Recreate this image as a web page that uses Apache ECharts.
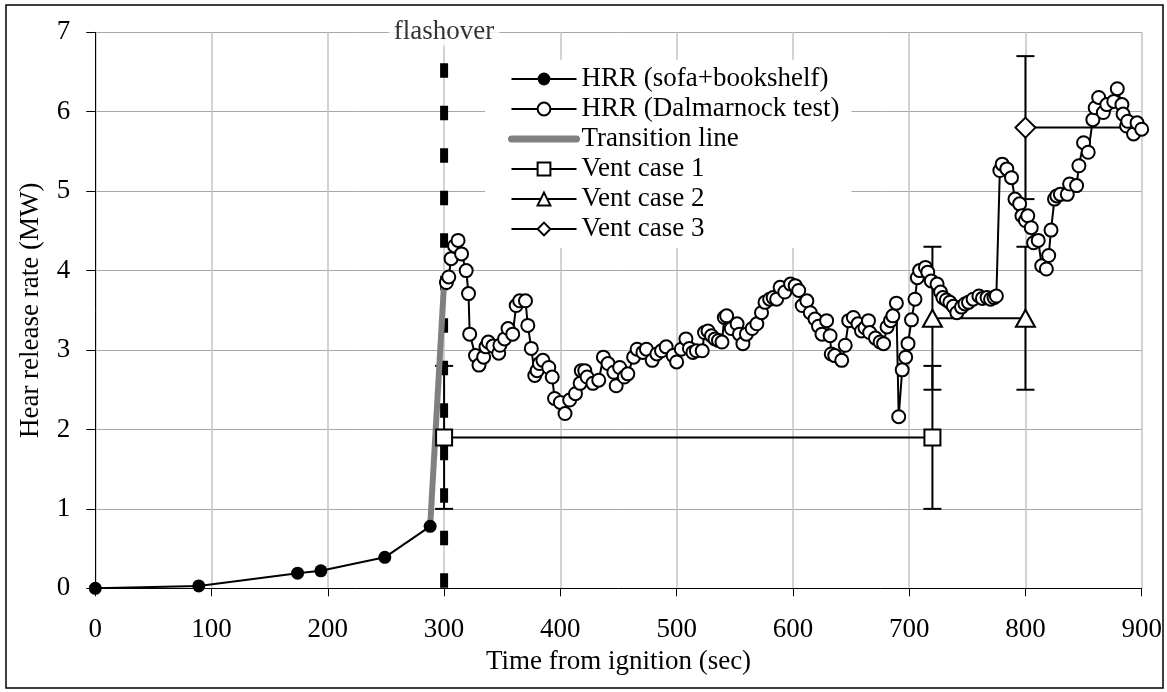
<!DOCTYPE html>
<html>
<head>
<meta charset="utf-8">
<title>HRR vs time</title>
<script src="https://cdn.jsdelivr.net/npm/echarts@6/dist/echarts.min.js"></script>
<style>
  html, body { margin: 0; padding: 0; background: #fff; }
  #chart { width: 1167px; height: 692px; }
</style>
</head>
<body>
<div id="chart"></div>
<script>
// time (sec), HRR (MW)
const sofaHrr = [[0, 0], [89, 0.03], [174, 0.19], [194, 0.22], [249, 0.39], [288, 0.78]];

const transitionLine = [[288, 0.78], [300, 3.85]];

const dalmarnockHrr = [
  [302, 3.85], [304, 3.92], [306, 4.15], [309, 4.31], [312, 4.38], [315, 4.21], [319, 4.0], [321, 3.71],
  [322, 3.2], [327, 2.93], [330, 2.81], [334, 2.91], [336, 3.04], [338, 3.1], [342, 3.05], [347, 2.96],
  [348, 3.06], [352, 3.14], [355, 3.27], [359, 3.2], [362, 3.56], [365, 3.62], [370, 3.62], [372, 3.31],
  [375, 3.02], [378, 2.68], [380, 2.74], [382, 2.83], [385, 2.87], [390, 2.78], [393, 2.66], [395, 2.39],
  [400, 2.34], [404, 2.2], [408, 2.37], [413, 2.45], [417, 2.58], [418, 2.74], [421, 2.74], [423, 2.66],
  [428, 2.58], [433, 2.62], [437, 2.91], [441, 2.83], [446, 2.72], [448, 2.55], [451, 2.78], [455, 2.66],
  [458, 2.7], [463, 2.91], [466, 3.01], [471, 2.97], [474, 3.01], [479, 2.87], [483, 2.95], [487, 2.99],
  [491, 3.04], [497, 2.93], [500, 2.85], [504, 3.01], [508, 3.14], [511, 3.02], [514, 2.97], [517, 2.99],
  [522, 2.99], [524, 3.22], [527, 3.24], [530, 3.18], [533, 3.14], [536, 3.12], [539, 3.1], [541, 3.41],
  [543, 3.43], [547, 3.27], [552, 3.33], [554, 3.2], [557, 3.08], [560, 3.2], [565, 3.27], [569, 3.33],
  [573, 3.47], [576, 3.6], [580, 3.64], [583, 3.66], [586, 3.64], [589, 3.79], [593, 3.73], [598, 3.83],
  [602, 3.81], [605, 3.75], [608, 3.56], [612, 3.62], [615, 3.47], [619, 3.39], [622, 3.3], [625, 3.2],
  [629, 3.37], [632, 3.18], [633, 2.95], [636, 2.93], [642, 2.87], [645, 3.06], [648, 3.37], [652, 3.41],
  [656, 3.33], [659, 3.24], [662, 3.28], [665, 3.37], [666, 3.22], [671, 3.15], [675, 3.1], [678, 3.08],
  [681, 3.29], [684, 3.37], [686, 3.43], [689, 3.59], [691, 2.16], [694, 2.75], [697, 2.91], [699, 3.08],
  [702, 3.38], [705, 3.64], [707, 3.91], [709, 4.0], [714, 4.04], [716, 3.98], [719, 3.87], [724, 3.83],
  [727, 3.73], [729, 3.66], [732, 3.63], [735, 3.6], [738, 3.55], [741, 3.47], [745, 3.54], [748, 3.58],
  [751, 3.6], [755, 3.64], [760, 3.68], [763, 3.65], [767, 3.66], [770, 3.64], [773, 3.66], [775, 3.68],
  [778, 5.26], [780, 5.34], [784, 5.28], [788, 5.17], [791, 4.9], [795, 4.84], [797, 4.69], [800, 4.63],
  [802, 4.69], [805, 4.54], [807, 4.35], [811, 4.38], [814, 4.06], [818, 4.02], [820, 4.19], [822, 4.51],
  [825, 4.9], [827, 4.94], [830, 4.96], [836, 4.96], [838, 5.09], [844, 5.07], [846, 5.32], [850, 5.61],
  [854, 5.49], [858, 5.9], [860, 6.05], [863, 6.18], [867, 5.99], [870, 6.09], [876, 6.13], [879, 6.29],
  [883, 6.09], [884, 5.97], [887, 5.82], [888, 5.88], [893, 5.72], [896, 5.86], [900, 5.78], [909, 5.61]
];

const ventCase1 = [[300, 1.9], [720, 1.9]];
const ventCase2 = [[720, 3.4], [800, 3.4]];
const ventCase3 = [[800, 5.8], [920, 5.8]];

// error bars: time, low, high
const ventErrorBars = [
  [300, 1.0, 2.8], [720, 1.0, 2.8],
  [720, 2.5, 4.3], [800, 2.5, 4.3],
  [800, 4.9, 6.7]
];

const flashoverLine = [[300, 6.61], [300, 0]];
const flashoverLabel = [[300, 7]];

const xTicks = { min: 0, max: 900, interval: 100 };
const yTicks = { min: 0, max: 7, interval: 1 };

const FONT = '"Liberation Serif", "Times New Roman", serif';

const chart = echarts.init(document.getElementById('chart'));

function openSymbolStyle() {
  return { color: '#fff', borderColor: '#000', borderWidth: 2 };
}

function renderErrorBar(params, api) {
  const t = api.value(0);
  const low = api.coord([t, api.value(1)]);
  const high = api.coord([t, api.value(2)]);
  const cap = 9;
  const style = { stroke: '#000', lineWidth: 2 };
  return {
    type: 'group',
    children: [
      { type: 'line', shape: { x1: low[0], y1: low[1], x2: high[0], y2: high[1] }, style },
      { type: 'line', shape: { x1: low[0] - cap, y1: low[1], x2: low[0] + cap, y2: low[1] }, style },
      { type: 'line', shape: { x1: high[0] - cap, y1: high[1], x2: high[0] + cap, y2: high[1] }, style }
    ]
  };
}

chart.setOption({
  animation: false,
  backgroundColor: '#fff',
  textStyle: { fontFamily: FONT, color: '#000' },
  grid: {
    left: 95.3, right: 25.3, top: 32.3, bottom: 103.7,
    containLabel: false, outerBoundsMode: 'none'
  },
  graphic: [{
    type: 'rect',
    shape: { x: 6, y: 5, width: 1157, height: 683 },
    style: { fill: null, stroke: '#000', lineWidth: 1.5 },
    silent: true,
    z: 100
  }],
  legend: {
    left: 485, top: 60,
    orient: 'vertical',
    padding: [4, 12, 4, 23],
    itemGap: 0,
    itemWidth: 65,
    itemHeight: 16,
    backgroundColor: '#fff',
    textStyle: { fontFamily: FONT, fontSize: 27, color: '#000', lineHeight: 30 },
    data: [
      'HRR (sofa+bookshelf)',
      'HRR (Dalmarnock test)',
      { name: 'Transition line', itemStyle: { color: 'rgba(0,0,0,0)', borderWidth: 0 }, lineStyle: { width: 7, cap: 'round' } },
      'Vent case 1',
      'Vent case 2',
      'Vent case 3'
    ]
  },
  xAxis: {
    type: 'value',
    min: xTicks.min, max: xTicks.max, interval: xTicks.interval,
    name: 'Time from ignition (sec)',
    nameLocation: 'middle',
    nameGap: 60,
    nameTextStyle: { fontFamily: FONT, fontSize: 27, color: '#000' },
    axisLine: { show: true, onZero: false, lineStyle: { color: '#000', width: 1 } },
    axisTick: { show: true, length: 8, lineStyle: { color: '#000', width: 1 } },
    axisLabel: { fontFamily: FONT, fontSize: 27, color: '#000', margin: 28 },
    splitLine: { show: true, lineStyle: { color: '#c4c4c4', width: 1.5 } }
  },
  yAxis: {
    type: 'value',
    min: yTicks.min, max: yTicks.max, interval: yTicks.interval,
    name: 'Hear release rate (MW)',
    nameLocation: 'middle',
    nameGap: 51,
    nameTextStyle: { fontFamily: FONT, fontSize: 27, color: '#000' },
    axisLine: { show: true, onZero: false, lineStyle: { color: '#000', width: 1 } },
    axisTick: { show: true, length: 9, lineStyle: { color: '#000', width: 1 } },
    axisLabel: { fontFamily: FONT, fontSize: 27, color: '#000', margin: 25 },
    splitLine: { show: true, lineStyle: { color: '#a8a8a8', width: 1 } }
  },
  series: [
    {
      name: 'flashover-line',
      type: 'line',
      data: flashoverLine,
      symbol: 'none',
      silent: true,
      z: 1,
      lineStyle: { color: '#000', width: 8, type: [14.5, 28], cap: 'butt' }
    },
    {
      name: 'flashover-label',
      type: 'scatter',
      data: flashoverLabel,
      symbolSize: 0,
      silent: true,
      z: 6,
      label: {
        show: true,
        position: 'inside',
        formatter: 'flashover',
        fontFamily: FONT,
        fontSize: 27,
        color: '#000',
        backgroundColor: '#fff',
        padding: [0, 5]
      }
    },
    {
      name: 'error-bars',
      type: 'custom',
      data: ventErrorBars,
      renderItem: renderErrorBar,
      silent: true,
      z: 2
    },
    {
      name: 'Transition line',
      type: 'line',
      data: transitionLine,
      symbol: 'none',
      z: 2,
      lineStyle: { color: '#808080', width: 6 },
      itemStyle: { color: '#808080' }
    },
    {
      name: 'HRR (sofa+bookshelf)',
      type: 'line',
      data: sofaHrr,
      symbol: 'circle',
      symbolSize: 13,
      z: 3,
      lineStyle: { color: '#000', width: 2 },
      itemStyle: { color: '#000', borderColor: '#000', borderWidth: 0 }
    },
    {
      name: 'HRR (Dalmarnock test)',
      type: 'line',
      data: dalmarnockHrr,
      symbol: 'circle',
      symbolSize: 13,
      z: 4,
      lineStyle: { color: '#000', width: 2 },
      itemStyle: openSymbolStyle()
    },
    {
      name: 'Vent case 1',
      type: 'line',
      data: ventCase1,
      symbol: 'rect',
      symbolSize: 16,
      z: 3,
      lineStyle: { color: '#000', width: 2 },
      itemStyle: openSymbolStyle()
    },
    {
      name: 'Vent case 2',
      type: 'line',
      data: ventCase2,
      symbol: 'triangle',
      symbolSize: [19, 17],
      z: 3,
      lineStyle: { color: '#000', width: 2 },
      itemStyle: openSymbolStyle()
    },
    {
      name: 'Vent case 3',
      type: 'line',
      data: ventCase3,
      symbol: 'diamond',
      symbolSize: [20, 20],
      z: 3,
      lineStyle: { color: '#000', width: 2 },
      itemStyle: openSymbolStyle()
    }
  ]
});

window.addEventListener('resize', () => chart.resize());
</script>
</body>
</html>
